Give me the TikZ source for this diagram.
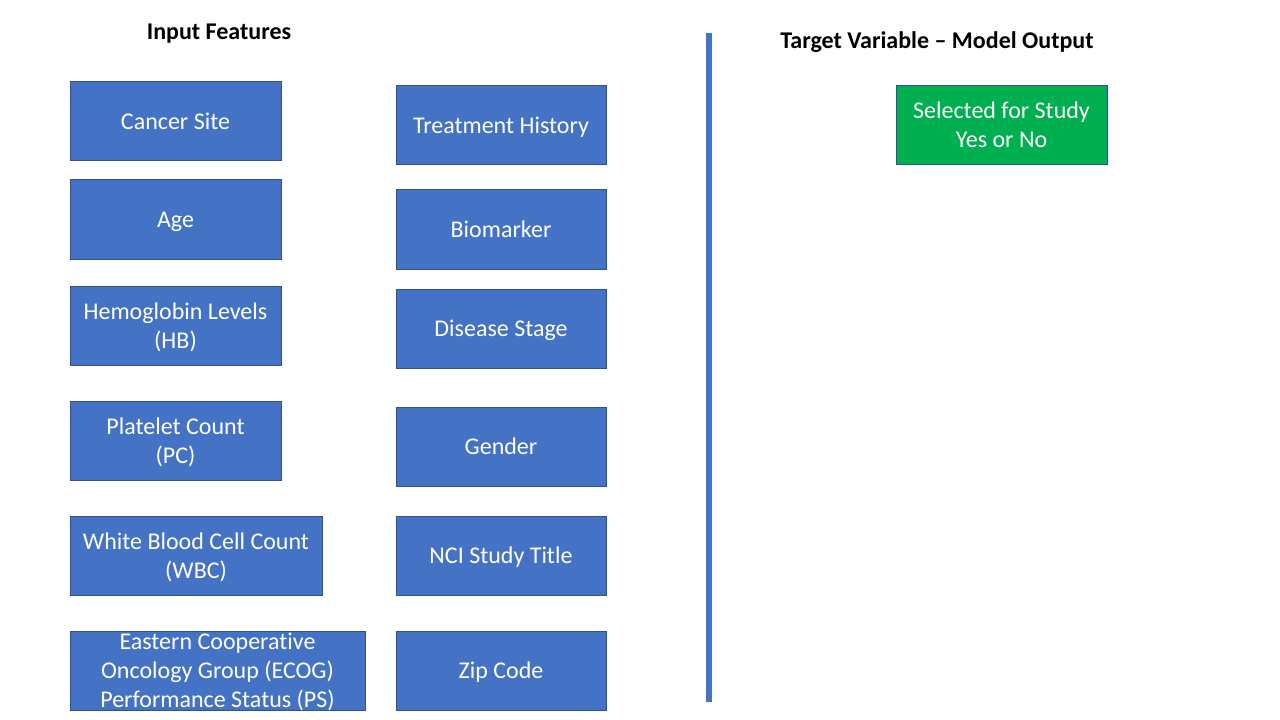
\documentclass[tikz,border=0pt]{standalone}
\usepackage{fontspec}
\setmainfont{Carlito}[Ligatures=NoCommon]
\definecolor{boxblue}{HTML}{4472C4}
\definecolor{boxedge}{HTML}{2F528F}
\definecolor{boxgreen}{HTML}{00B050}
\newcommand\bxl[1]{\smash{#1}\rule[-4.5pt]{0pt}{21pt}}
\newcommand\bxt[1]{\smash{#1}\rule[-2pt]{0pt}{15.7pt}}
\begin{document}
\begin{tikzpicture}[x=0.75pt,y=-0.75pt,
  fbox/.style={draw=boxedge,line width=0.75pt,fill=boxblue,text=white,inner sep=0pt,
    align=center,font=\fontsize{18}{21.75}\selectfont,minimum height=59.25pt},
  gbox/.style={fbox,fill=boxgreen},
  ttl/.style={font=\bfseries\fontsize{18}{21.75}\selectfont,inner sep=0pt,anchor=base}]
\useasboundingbox[fill=white] (0,0) rectangle (1280,720);
% left column
\node[fbox,minimum width=158.25pt] (cs) at (175.5,121.5) {\bxl{Cancer Site}};
\node[fbox,minimum width=158.25pt] (age) at (175.5,219.5) {\bxl{Age}};
\node[fbox,minimum width=158.25pt] (hb) at (175.5,325.5) {\bxl{Hemoglobin Levels}\\\bxl{(HB)}};
\node[fbox,minimum width=158.25pt] (pc) at (175.5,440.5) {\bxl{Platelet Count}\\\bxl{(PC)}};
\node[fbox,minimum width=189pt] (wbc) at (196,555.5) {\bxl{White Blood Cell Count}\\\bxl{(WBC)}};
\node[fbox,minimum width=221.25pt] (ecog) at (217.5,670.5) {\bxt{Eastern Cooperative}\\\bxt{Oncology Group (ECOG)}\\\bxt{Performance Status (PS)}};
% right column
\node[fbox,minimum width=157.5pt] (th) at (501,125.5) {\bxl{Treatment History}};
\node[fbox,minimum width=157.5pt] (bm) at (501,229.5) {\bxl{Biomarker}};
\node[fbox,minimum width=157.5pt] (ds) at (501,328.5) {\bxl{Disease Stage}};
\node[fbox,minimum width=157.5pt] (gen) at (501,446.5) {\bxl{Gender}};
\node[fbox,minimum width=157.5pt] (nci) at (501,555.5) {\bxl{NCI Study Title}};
\node[fbox,minimum width=157.5pt] (zip) at (501,670.5) {\bxl{Zip Code}};
% output
\node[gbox,minimum width=158.25pt] (sel) at (1001.5,125.5) {\bxl{Selected for Study}\\\bxl{Yes or No}};
% titles
\node[ttl] (t1) at (219,39.5) {Input Features};
\node[ttl] (t2) at (937,48.5) {Target Variable – Model Output};
% divider
\coordinate (lt) at (709,33);
\coordinate (lb) at (709,702);
\draw[boxblue,line width=4.5pt] (lt) -- (lb);
\end{tikzpicture}
\end{document}
